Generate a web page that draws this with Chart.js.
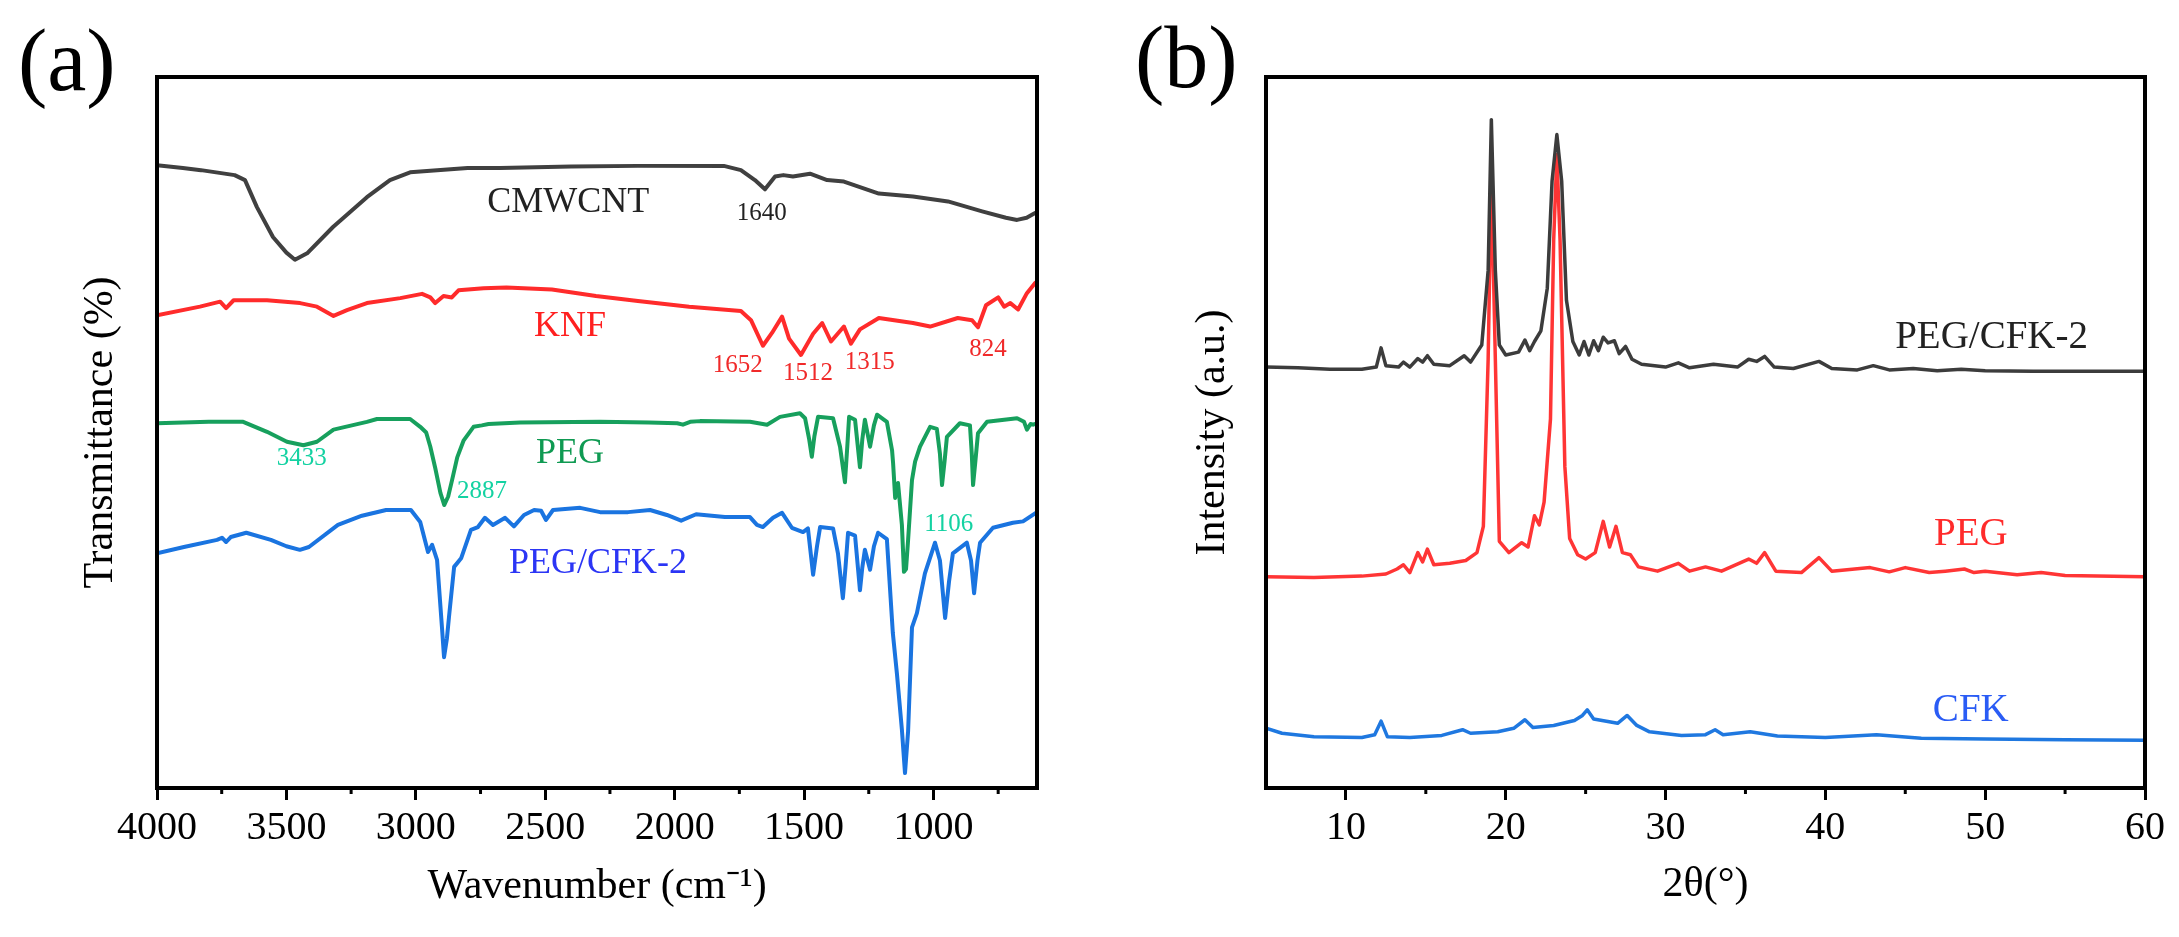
<!DOCTYPE html>
<html>
<head>
<meta charset="utf-8">
<script src="https://cdn.jsdelivr.net/npm/chart.js@4.4.1/dist/chart.umd.min.js"></script>
<style>
  html, body { margin: 0; padding: 0; background: #fff; width: 2179px; height: 937px; overflow: hidden; }
  #wrapA { position: absolute; left: 0; top: 0; width: 1090px; height: 937px; }
  #wrapB { position: absolute; left: 1090px; top: 0; width: 1089px; height: 937px; }
  .panel { position: absolute; font-family: "Liberation Serif", "Times New Roman", serif; font-size: 88px; line-height: 88px; color: #000; }
</style>
</head>
<body>
<div id="wrapA"><canvas id="ftir" width="1090" height="937"></canvas></div>
<div id="wrapB"><canvas id="xrd" width="1089" height="937"></canvas></div>
<div class="panel" style="left:18px; top:17px;">(a)</div>
<div class="panel" style="left:1135px; top:14px;">(b)</div>
<script>
// ---------------- FTIR (panel a) ----------------
const cmwcntWn = [4000,3900,3830,3700,3660,3614,3552,3500,3467,3420,3320,3189,3100,3022,2800,2675,2400,2142,1810,1744,1690,1651,1612,1580,1543,1477,1411,1346,1211,1079,944,812,720,677,640,611,600];
const cmwcntT  = [87.6,87.2,86.9,86.2,85.5,81.7,77.5,75.3,74.3,75.2,78.9,83.1,85.5,86.6,87.2,87.2,87.4,87.5,87.5,86.9,85.5,84.2,86.0,86.2,86.0,86.4,85.5,85.3,83.6,83.2,82.5,81.1,80.2,79.9,80.2,80.8,81.0];

const knfWn = [4000,3834,3756,3733,3704,3575,3447,3382,3318,3266,3189,3060,2976,2944,2925,2893,2861,2835,2738,2650,2474,2304,2142,1944,1744,1705,1659,1624,1585,1558,1512,1465,1430,1396,1346,1319,1284,1211,1079,1013,906,851,828,797,750,727,703,673,639,608,600];
const knfT  = [66.5,67.7,68.4,67.5,68.6,68.6,68.2,67.7,66.4,67.2,68.2,68.9,69.5,69.0,68.2,69.2,69.0,70.0,70.3,70.4,70.1,69.2,68.5,67.7,67.1,65.8,62.2,64.0,66.3,63.2,60.9,63.9,65.4,62.8,64.9,62.5,64.5,66.1,65.4,64.9,66.1,65.8,64.8,67.9,69.0,67.7,68.2,67.3,69.6,71.0,71.2];

const pegWn = [4000,3800,3667,3575,3498,3434,3382,3318,3189,3150,3022,2983,2960,2944,2925,2905,2890,2875,2860,2840,2815,2777,2745,2719,2597,2288,2100,1990,1968,1940,1902,1709,1643,1593,1516,1496,1480,1470,1460,1446,1388,1361,1342,1333,1326,1303,1284,1275,1265,1245,1230,1218,1180,1160,1156,1148,1137,1122,1114,1106,1098,1083,1071,1052,1013,987,975,967,957,948,898,859,852,847,838,828,793,677,650,639,625,615,600];
const pegT  = [51.3,51.5,51.5,50.1,48.7,48.2,48.7,50.4,51.5,51.9,51.9,50.8,50.0,48.0,45.0,41.5,39.8,41.0,43.3,46.5,48.9,50.8,51.0,51.2,51.4,51.5,51.4,51.3,51.1,51.5,51.6,51.5,51.1,52.2,52.7,52.0,49.0,46.6,49.5,52.2,52.0,48.0,43.0,48.0,52.2,51.8,45.1,49.0,51.8,48.0,51.0,52.5,51.5,47.5,45.7,40.8,42.9,37.0,30.4,30.8,34.9,43.3,45.9,48.0,50.8,50.5,47.0,42.6,46.0,49.4,51.3,51.0,47.0,42.6,46.0,49.9,51.5,52.0,51.5,50.4,51.2,51.1,51.3];

const pegCfkWn = [4000,3896,3768,3749,3733,3715,3655,3560,3500,3448,3413,3301,3208,3115,3019,2983,2953,2937,2918,2899,2891,2880,2872,2852,2825,2787,2760,2733,2702,2655,2621,2582,2543,2516,2497,2470,2365,2288,2180,2095,2030,1975,1917,1806,1709,1682,1659,1620,1585,1547,1504,1485,1465,1450,1438,1388,1369,1350,1340,1330,1303,1284,1275,1265,1245,1230,1214,1180,1157,1141,1122,1110,1098,1083,1064,1033,994,975,955,940,925,871,855,843,830,820,770,693,654,600];
const pegCfkT  = [33.0,33.9,34.9,35.2,34.6,35.3,35.9,34.9,34.0,33.5,33.9,37.0,38.3,39.1,39.1,37.4,33.2,34.2,32.1,22.6,18.4,21.0,24.0,31.1,32.3,36.3,36.7,38.0,37.0,38.0,36.8,38.4,39.1,39.0,37.7,39.1,39.4,38.8,38.8,39.1,38.4,37.6,38.5,38.1,38.1,37.0,36.7,38.0,38.7,36.6,36.0,36.5,30.0,34.0,36.7,36.5,33.0,26.7,31.0,35.9,35.5,27.8,31.0,33.5,30.7,34.0,35.9,35.0,21.8,16.0,8.2,2.1,8.0,22.6,24.6,30.2,34.5,32.0,23.9,29.0,33.0,34.5,32.0,27.4,32.0,34.5,36.6,37.3,37.5,38.8];

const ftirMajorTicks = [4000,3500,3000,2500,2000,1500,1000];
const ftirMinorTicks = [3750,3250,2750,2250,1750,1250,750];

const ftirLabelText = ["CMWCNT","1640","KNF","1652","1512","1315","824","PEG","3433","2887","1106","PEG/CFK-2"];
const ftirLabelWn   = [2411,1663,2404,1756,1485,1246,789,2404,3441,2744,941,2296];
const ftirLabelT    = [82.3,80.8,64.9,59.4,58.3,59.9,61.7,47.1,46.3,41.7,37.0,31.6];

// ---------------- XRD (panel b) ----------------
const pegCfk2Theta = [5,7,9,11,11.9,12.2,12.5,13.3,13.6,14,14.5,14.8,15.1,15.5,16.5,17.4,17.8,18.5,18.9,19.1,19.35,19.6,20,20.8,21.2,21.5,21.8,22.2,22.6,22.9,23.2,23.5,23.8,24.2,24.6,24.9,25.2,25.5,25.8,26.1,26.4,26.8,27.1,27.5,27.9,28.5,30,30.8,31.5,33,34.5,35.2,35.7,36.2,36.8,38,39.6,40.4,42,43,44,45.5,47,48.5,50,53,56,60];
const pegCfkI      = [59.2,59.1,58.9,58.9,59.2,61.9,59.4,59.2,59.9,59.2,60.4,59.9,60.8,59.6,59.4,60.8,59.9,62.3,72.8,94.0,72.8,62.3,60.9,61.3,63.0,61.5,62.8,64.3,70.3,85.4,91.9,85.4,68.6,62.8,60.9,62.8,60.9,62.9,61.5,63.4,62.6,62.9,61.1,62.1,60.3,59.6,59.2,59.8,59.1,59.6,59.2,60.3,60.0,60.7,59.2,59.0,60.0,59.0,58.8,59.4,58.8,59.0,58.7,58.9,58.7,58.6,58.6,58.6];

const peg2Theta = [5,8,11,12.5,13.2,13.6,14,14.5,14.8,15.1,15.5,16.5,17.5,18.2,18.6,18.9,19.1,19.35,19.6,20.2,21,21.4,21.8,22.1,22.4,22.8,23,23.2,23.4,23.7,24,24.5,25,25.6,26.1,26.5,26.9,27.3,27.8,28.3,29.5,30.8,31.5,32.5,33.5,35.2,35.7,36.2,36.9,38.5,39.6,40.4,42.8,44,45,46.5,47.5,48.7,49.3,50,52,53.5,55,60];
const pegI      = [29.7,29.6,29.8,30.1,30.8,31.4,30.3,33.1,31.8,33.6,31.4,31.6,32.0,33.1,36.8,60.3,86.2,60.3,34.7,33.1,34.5,33.9,38.3,37.0,40.2,51.9,77.0,89.1,77.0,45.2,35.1,32.8,32.2,33.1,37.5,33.9,36.8,33.1,32.8,31.1,30.5,31.6,30.5,31.1,30.5,32.2,31.6,33.1,30.5,30.3,32.4,30.5,31.0,30.4,31.0,30.3,30.5,30.8,30.3,30.5,30.0,30.3,29.9,29.7];

const cfk2Theta = [5,6,8,11,11.8,12.2,12.6,14,16,17.3,17.8,19.5,20.5,21.2,21.7,23,24.3,24.8,25.1,25.5,26.3,27,27.6,28.2,29,31,32.5,33.1,33.6,35.3,37,40,43.2,46,50,55,60];
const cfkI      = [8.4,7.7,7.2,7.1,7.5,9.4,7.2,7.1,7.4,8.2,7.7,7.9,8.4,9.6,8.5,8.8,9.5,10.2,11.0,9.7,9.4,9.1,10.2,8.8,7.9,7.4,7.5,8.2,7.5,7.9,7.3,7.1,7.5,7.0,6.9,6.8,6.7];

const xrdMajorTicks = [10,20,30,40,50,60];
const xrdMinorTicks = [15,25,35,45,55];

const xrdLabelText  = ["PEG/CFK-2","PEG","CFK"];
const xrdLabelTheta = [50.4,49.1,49.1];
const xrdLabelI     = [63.3,35.6,10.8];

// ---------------- helpers ----------------
const SERIF = "'Liberation Serif', 'Times New Roman', serif";
Chart.defaults.font.family = SERIF;
Chart.defaults.color = '#000';
const zip = (xs, ys) => xs.map((x, i) => ({x: x, y: ys[i]}));

const framePlugin = {
  id: 'frame',
  afterDatasetsDraw(chart) {
    const a = chart.chartArea, ctx = chart.ctx;
    ctx.save();
    ctx.strokeStyle = '#000';
    ctx.lineWidth = 4;
    ctx.strokeRect(a.left, a.top, a.right - a.left, a.bottom - a.top);
    const opt = chart.options.plugins.minorTicks;
    const xs = chart.scales.x;
    ctx.lineWidth = 3;
    ctx.beginPath();
    opt.values.forEach(v => {
      const px = xs.getPixelForValue(v);
      ctx.moveTo(px, a.bottom);
      ctx.lineTo(px, a.bottom + opt.length);
    });
    ctx.stroke();
    ctx.restore();
  }
};

const textPlugin = {
  id: 'plotText',
  afterDatasetsDraw(chart) {
    const o = chart.options.plugins.plotText;
    const ctx = chart.ctx;
    ctx.save();
    ctx.textAlign = 'center';
    ctx.textBaseline = 'middle';
    o.text.forEach((t, i) => {
      ctx.fillStyle = o.colors[i];
      ctx.font = o.sizes[i] + 'px ' + SERIF;
      ctx.fillText(t, chart.scales.x.getPixelForValue(o.xs[i]), chart.scales.y.getPixelForValue(o.ys[i]));
    });
    ctx.restore();
  }
};

function makeX(min, max, reverse, majors, titleText, titlePad, axisHeight) {
  return {
    type: 'linear', min: min, max: max, reverse: reverse,
    afterBuildTicks: (axis) => { axis.ticks = majors.map(v => ({value: v})); },
    afterFit: (axis) => { axis.height = axisHeight; },
    ticks: { color: '#000', font: { family: SERIF, size: 40, weight: 'normal' }, padding: 4, maxRotation: 0, autoSkip: false, callback: (v) => String(v) },
    grid: { display: true, drawOnChartArea: false, drawTicks: true, tickLength: 12, tickWidth: 3, tickColor: '#000' },
    border: { display: false },
    title: { display: true, text: titleText, color: '#000', font: { family: SERIF, size: 42, weight: 'normal' }, padding: { top: 0, bottom: titlePad } }
  };
}
function makeY(titleText, titlePad, axisWidth) {
  return {
    type: 'linear', min: 0, max: 100,
    afterFit: (axis) => { axis.width = axisWidth; },
    ticks: { display: false },
    grid: { display: false },
    border: { display: false },
    title: { display: true, text: titleText, color: '#000', font: { family: SERIF, size: 42, weight: 'normal' }, padding: { top: titlePad, bottom: 0 } }
  };
}
function ds(data, color, w) {
  return { data: data, borderColor: color, borderWidth: w, pointRadius: 0, tension: 0, fill: false, borderJoinStyle: 'round', borderCapStyle: 'round' };
}

new Chart(document.getElementById('ftir'), {
  type: 'line',
  data: { datasets: [
    ds(zip(cmwcntWn, cmwcntT), '#404040', 4),
    ds(zip(knfWn, knfT), '#ff2b2b', 4),
    ds(zip(pegWn, pegT), '#17a05d', 4),
    ds(zip(pegCfkWn, pegCfkT), '#1a74e0', 4)
  ]},
  options: {
    responsive: false, animation: false,
    layout: { padding: { top: 77, right: 53, left: 0, bottom: 0 } },
    plugins: {
      legend: { display: false }, tooltip: { enabled: false },
      minorTicks: { values: ftirMinorTicks, length: 6 },
      plotText: {
        text: ftirLabelText, xs: ftirLabelWn, ys: ftirLabelT,
        colors: ['#222','#222','#ff2020','#f02a2a','#f02a2a','#f02a2a','#f02a2a','#0f9a52','#14d2a2','#14d2a2','#14d2a2','#2b35f5'],
        sizes: [36,25,36,25,25,25,25,36,25,25,25,36]
      }
    },
    scales: {
      x: makeX(600, 4000, true, ftirMajorTicks, 'Wavenumber (cm\u207B\u00B9)', 25, 149),
      y: makeY('Transmittance (%)', 76, 157)
    }
  },
  plugins: [framePlugin, textPlugin]
});

new Chart(document.getElementById('xrd'), {
  type: 'line',
  data: { datasets: [
    ds(zip(pegCfk2Theta, pegCfkI), '#3c3c3c', 3.5),
    ds(zip(peg2Theta, pegI), '#ff3535', 3.5),
    ds(zip(cfk2Theta, cfkI), '#1f78e0', 3.5)
  ]},
  options: {
    responsive: false, animation: false,
    layout: { padding: { top: 77, right: 34, left: 0, bottom: 0 } },
    plugins: {
      legend: { display: false }, tooltip: { enabled: false },
      minorTicks: { values: xrdMinorTicks, length: 6 },
      plotText: {
        text: xrdLabelText, xs: xrdLabelTheta, ys: xrdLabelI,
        colors: ['#222','#ff2b2b','#2a5cf5'],
        sizes: [39,39,39]
      }
    },
    scales: {
      x: makeX(5, 60, false, xrdMajorTicks, '2\u03B8(\u00B0)', 27, 149),
      y: makeY('Intensity (a.u.)', 98, 176)
    }
  },
  plugins: [framePlugin, textPlugin]
});
</script>
</body>
</html>
